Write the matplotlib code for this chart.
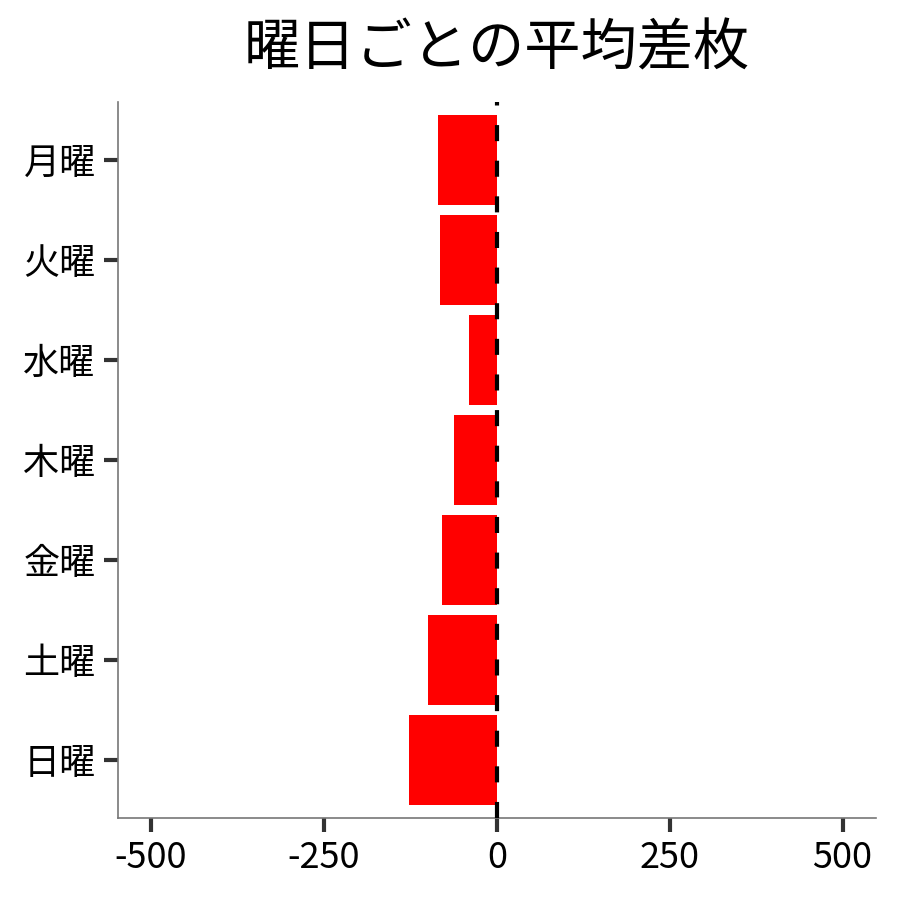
import matplotlib
matplotlib.use("Agg")
import matplotlib.pyplot as plt

plt.rcParams['font.family'] = ['Noto Sans CJK JP', 'DejaVu Sans']

# data
days = ["月曜", "火曜", "水曜", "木曜", "金曜", "土曜", "日曜"]
avg_diff = [-85, -82, -40, -62, -79, -100, -127]
xticks = [-500, -250, 0, 250, 500]

fig = plt.figure(figsize=(9, 9), dpi=100)
ax = fig.add_axes([0.131, 0.091, 0.842, 0.796])

ax.barh(days, avg_diff, height=0.9, color="red", zorder=2)
ax.axvline(0, color="black", lw=3, linestyle=(0, (3.85, 4.7)), zorder=3)

ax.set_xlim(-548, 548)
ax.set_ylim(6.58, -0.58)
ax.set_xticks(xticks)
ax.set_xticklabels([str(v) for v in xticks])

for s in ["top", "right"]:
    ax.spines[s].set_visible(False)
for s in ["left", "bottom"]:
    ax.spines[s].set_color("#777777")
    ax.spines[s].set_linewidth(1.2)

ax.tick_params(axis="both", length=10, width=3, color="#333333", labelsize=26, pad=6)
ax.set_title("曜日ごとの平均差枚", fontsize=40.5, pad=26)

fig.savefig("out.png", dpi=100)
